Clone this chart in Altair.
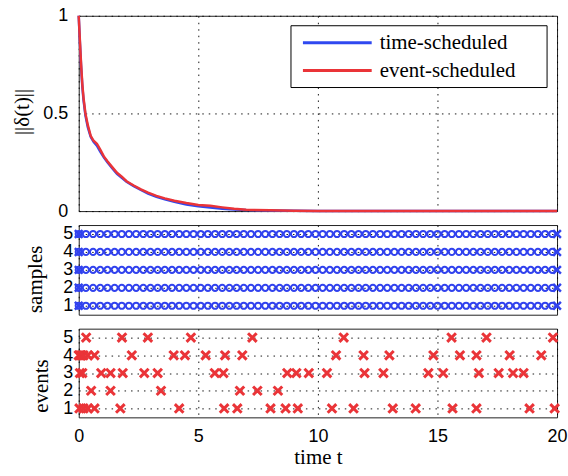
import altair as alt
import pandas as pd

T_MAX = 20

# ---- top panel: norm of disagreement ----
t_curve = [0, 0.05, 0.1, 0.15, 0.2, 0.28, 0.38, 0.5, 0.62, 0.76, 0.9, 1.05, 1.2, 1.4,
           1.6, 1.8, 2.0, 2.3, 2.6, 2.9, 3.25, 3.6, 4.0, 4.5, 5.0, 5.5, 6.0, 6.5, 7.0,
           8.0, 9.0, 10, 12, 14, 16, 18, 20]
norm_time = [1.0, 0.86, 0.74, 0.64, 0.57, 0.49, 0.43, 0.38, 0.355, 0.335, 0.305, 0.275,
             0.25, 0.22, 0.19, 0.17, 0.15, 0.128, 0.108, 0.09, 0.073, 0.06, 0.048, 0.034,
             0.025, 0.018, 0.012, 0.008, 0.005, 0.003, 0.002, 0.001, 0.0005, 0.0003,
             0.0002, 0.0001, 0.0001]
norm_event = [1.0, 0.87, 0.75, 0.65, 0.58, 0.5, 0.44, 0.385, 0.36, 0.345, 0.315, 0.28,
              0.255, 0.225, 0.196, 0.176, 0.153, 0.131, 0.111, 0.094, 0.078, 0.065, 0.053,
              0.041, 0.031, 0.027, 0.019, 0.012, 0.007, 0.004, 0.002, 0.001, 0.0006,
              0.0003, 0.0002, 0.0001, 0.0001]
series_names = ["time-scheduled", "event-scheduled"]
series_colors = ["#2f48f0", "#ea3438"]

# ---- middle panel: periodic samples ----
agents = [1, 2, 3, 4, 5]
sample_period = 0.3
sample_times = [round(k * sample_period, 4) for k in range(int(T_MAX / sample_period) + 1)]
sample_ends = [0, 20]

# ---- bottom panel: event times per agent ----
events_1 = [0.03, 0.2, 0.38, 0.66, 1.74, 4.20, 6.08, 6.63, 8.02, 8.65, 9.16, 10.59, 11.49,
            13.13, 14.09, 15.63, 16.63, 18.85, 19.90]
events_2 = [0.52, 1.33, 3.44, 6.74, 7.47, 8.33]
events_3 = [0.05, 0.15, 0.94, 1.33, 1.84, 2.74, 3.30, 5.69, 6.05, 8.72, 9.10, 9.62, 10.38,
            11.95, 12.74, 14.62, 15.24, 16.73, 17.56, 18.16, 18.60]
events_4 = [0.0, 0.06, 0.12, 0.2, 0.38, 0.66, 2.22, 3.97, 4.44, 5.31, 6.12, 6.84, 10.76,
            11.91, 12.99, 14.83, 15.94, 16.63, 18.02, 19.34]
events_5 = [0.31, 1.81, 2.89, 4.69, 7.26, 11.08, 15.59, 17.05, 19.83]
x_ticks = [0, 5, 10, 15, 20]

# ---- tables ----
curve_time = pd.DataFrame({"t": t_curve, "v": norm_time})
curve_event = pd.DataFrame({"t": t_curve, "v": norm_event})
samples = pd.DataFrame([(t, a) for a in agents for t in sample_times], columns=["t", "agent"])
sample_x = pd.DataFrame([(t, a) for a in agents for t in sample_ends], columns=["t", "agent"])
ev_lists = [events_1, events_2, events_3, events_4, events_5]
events = pd.DataFrame([(t, a) for a, lst in zip(agents, ev_lists) for t in lst],
                      columns=["t", "agent"])

SANS = "Liberation Sans"
SERIF = "Liberation Serif"
X_SHAPE = "M-1,-1L1,1M-1,1L1,-1"
GRID = dict(grid=True, gridDash=[1.5, 5], gridColor="#000000", gridWidth=1, gridOpacity=0.9)
W = 480

xscale = alt.Scale(domain=[0, T_MAX], nice=False)


def x_enc(show):
    if show:
        ax = alt.Axis(values=x_ticks, labels=True, ticks=False, domain=False,
                      labelFont=SANS, labelFontSize=18, labelColor="#000",
                      labelPadding=10, labelFlush=False, labelOverlap=False,
                      title="time t", titleFont=SERIF, titleFontSize=21,
                      titleFontWeight="normal", titleColor="#000",
                      titleBaseline="middle", titleY=40, **GRID)
    else:
        ax = alt.Axis(values=x_ticks, labels=False, ticks=False, domain=False,
                      title=None, **GRID)
    return alt.X("t:Q", scale=xscale, axis=ax)


def y_axis(values, title, tx, ty, pad):
    return alt.Axis(values=values, labelExpr="datum.value", ticks=False, domain=False,
                    labelFont=SANS, labelFontSize=18, labelColor="#000", labelPadding=pad,
                    labelOverlap=False,
                    title=title, titleFont=SERIF, titleFontSize=21, titleFontWeight="normal",
                    titleColor="#000", titleAngle=270, titleAlign="center",
                    titleBaseline="middle", titleX=tx, titleY=ty, **GRID)


# top panel
ytop = alt.Y("v:Q", scale=alt.Scale(domain=[0, 1], nice=False),
             axis=y_axis([0, 0.5, 1], "||δ(t)||", -56, 96, 11))
line_b = alt.Chart(curve_time).mark_line(strokeWidth=2.5, color=series_colors[0]).encode(
    x=x_enc(False), y=ytop)
line_r = alt.Chart(curve_event).mark_line(strokeWidth=2.5, color=series_colors[1]).encode(
    x=x_enc(False), y=ytop)

leg_df = pd.DataFrame({"label": series_names, "color": series_colors})
leg_box = alt.Chart(leg_df.head(1)).mark_rect(fill="white", stroke="#000", strokeWidth=1).encode(
    x=alt.value(213), x2=alt.value(470), y=alt.value(10), y2=alt.value(72))
leg_parts = [leg_box]
for i, (name, col) in enumerate(zip(series_names, series_colors)):
    yy = 27 + i * 28
    one = leg_df.iloc[[i]]
    leg_parts.append(alt.Chart(one).mark_rule(color=col, strokeWidth=3).encode(
        x=alt.value(225), x2=alt.value(294), y=alt.value(yy)))
    leg_parts.append(alt.Chart(one).mark_text(align="left", baseline="middle", font=SERIF,
                                              fontSize=21, color="#000").encode(
        x=alt.value(302), y=alt.value(yy), text="label:N"))

top = alt.layer(line_b, line_r, *leg_parts).properties(width=W, height=196)

# middle panel
ymid = alt.Y("agent:Q", scale=alt.Scale(domain=[0.5, 5.5], nice=False),
             axis=y_axis(agents, "samples", -43, 54, 6))
mid_c = alt.Chart(samples).mark_point(shape="circle", filled=False, color="#3142ee",
                                       strokeWidth=2, size=38, opacity=1).encode(
    x=x_enc(False), y=ymid)
mid_x = alt.Chart(sample_x).mark_point(shape=X_SHAPE, filled=False, color="#3142ee",
                                        strokeWidth=2.5, size=60, opacity=1).encode(
    x=x_enc(False), y=ymid)
mid = alt.layer(mid_c, mid_x).properties(width=W, height=90)

# bottom panel
ybot = alt.Y("agent:Q", scale=alt.Scale(domain=[0.5, 5.5], nice=False),
             axis=y_axis(agents, "events", -37, 57, 6))
bot = alt.Chart(events).mark_point(shape=X_SHAPE, filled=False, color="#ea3438",
                                    strokeWidth=3, size=75, opacity=1).encode(
    x=x_enc(True), y=ybot).properties(width=W, height=89)

chart = alt.vconcat(top, mid, bot, spacing=14, bounds="flush").properties(
    padding={"left": 11, "top": 5, "right": 0, "bottom": 0}
).configure_view(stroke="#222222", strokeWidth=1)

chart.save("out.html", embed_options={"renderer": "svg", "actions": False})
